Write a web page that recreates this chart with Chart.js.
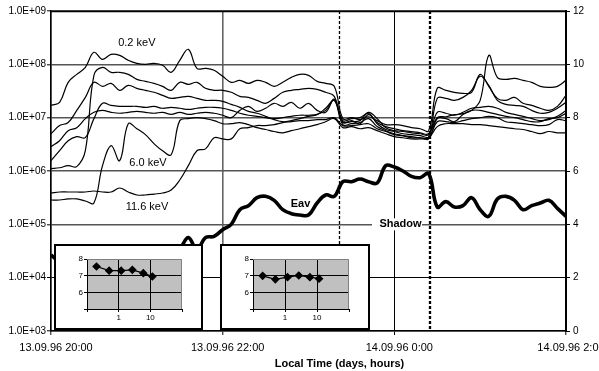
<!DOCTYPE html>
<html>
<head>
<meta charset="utf-8">
<script src="https://cdn.jsdelivr.net/npm/chart.js@4.4.0/dist/chart.umd.min.js"></script>
<style>
  html, body { margin: 0; padding: 0; background: #fff; }
  #wrap { position: relative; width: 599px; height: 371px; overflow: hidden; }
  #main { position: absolute; left: 0; top: 0; }
  .inset { position: absolute; box-sizing: border-box; border: 2px solid #000; background: #fff; }
  .inset canvas { position: absolute; left: 0; top: 0; }
</style>
</head>
<body>
<div id="wrap">
  <canvas id="main" width="599" height="371"></canvas>
  <div class="inset" style="left:54px; top:244px; width:149px; height:86px;"><canvas id="inset1" width="145" height="82"></canvas></div>
  <div class="inset" style="left:220px; top:244px; width:150px; height:86px;"><canvas id="inset2" width="146" height="82"></canvas></div>
</div>
<script>
// Hours after 13.09.96 20:00, one sample every 6 minutes
const hours = [0,0.1,0.2,0.3,0.4,0.5,0.6,0.7,0.8,0.9,1.0,1.1,1.2,1.3,1.4,1.5,1.6,1.7,1.8,1.9,2.0,2.1,2.2,2.3,2.4,2.5,2.6,2.7,2.8,2.9,3.0,3.1,3.2,3.3,3.4,3.5,3.6,3.7,3.8,3.9,4.0,4.1,4.2,4.3,4.4,4.5,4.6,4.7,4.8,4.9,5.0,5.1,5.2,5.3,5.4,5.5,5.6,5.7,5.8,5.9,6.0];

// Electron flux per energy channel (left axis)
const flux02keV = [1.7e7,1.94e7,4.6e7,6.49e7,8.78e7,1.68e8,1.24e8,1.54e8,1.47e8,1.19e8,1.04e8,1.0e8,1.04e8,9.58e7,7.08e7,1.19e8,1.91e8,8.41e7,8.41e7,7.72e7,5.96e7,4.6e7,5.01e7,4.4e7,5.01e7,4.6e7,3.87e7,4.6e7,5.7e7,6.49e7,6.22e7,4.8e7,4.4e7,3.87e7,9.6e6,1.0e7,9.2e6,1.04e7,8.8e6,7.4e6,7.4e6,7.1e6,6.5e6,6.2e6,5.7e6,3.55e7,3.26e7,2.99e7,2.86e7,2.99e7,6.49e7,3.87e7,2.3e7,2.11e7,2.4e7,1.86e7,1.7e7,1.5e7,1.37e7,1.63e7,2.62e7];
const fluxCh2 = [1.11e6,1.15e6,1.26e6,1.21e6,2.4e6,6.22e7,8.78e7,7.08e7,7.08e7,6.49e7,5.23e7,4.8e7,4.4e7,3.87e7,3.26e7,4.6e7,4.22e7,4.6e7,3.55e7,3.26e7,3.26e7,2.99e7,2.51e7,2.4e7,2.11e7,1.86e7,2.3e7,2.99e7,3.26e7,3.4e7,3.55e7,3.4e7,2.99e7,2.51e7,8.1e6,8.8e6,7.7e6,1.14e7,8.1e6,6.8e6,6.2e6,5.7e6,5.5e6,5.2e6,5.0e6,1.0e7,1.04e7,1.14e7,1.19e7,1.37e7,2.11e7,1.47e8,5.7e7,5.23e7,5.46e7,5.01e7,4.6e7,3.87e7,3.7e7,3.87e7,5.01e7];
const fluxCh3 = [5.0e6,7.1e6,8.1e6,1.37e7,2.4e7,4.6e7,3.87e7,4.4e7,3.26e7,4.04e7,3.55e7,3.26e7,2.99e7,2.62e7,2.3e7,2.4e7,2.51e7,2.3e7,2.11e7,2.11e7,2.02e7,1.78e7,1.56e7,1.31e7,1.21e7,1.06e7,9.2e6,8.4e6,8.8e6,9.6e6,1.06e7,1.14e7,1.5e7,2.11e7,8.8e6,9.6e6,1.0e7,1.21e7,7.7e6,6.0e6,5.5e6,5.0e6,4.8e6,4.6e6,4.4e6,2.3e7,2.3e7,2.11e7,2.4e7,3.26e7,5.96e7,4.04e7,2.11e7,1.78e7,1.7e7,1.63e7,1.37e7,1.21e7,1.26e7,1.5e7,1.94e7];
const fluxCh4 = [1.56e6,2.4e6,3.7e6,4.4e6,4.22e6,9.6e6,1.86e7,1.7e7,1.63e7,1.63e7,1.63e7,1.56e7,1.63e7,1.5e7,1.56e7,1.5e7,1.43e7,1.5e7,1.56e7,1.56e7,1.5e7,1.37e7,1.21e7,1.11e7,1.06e7,1.0e7,9.6e6,1.0e7,1.06e7,1.11e7,1.11e7,1.15e7,1.37e7,2.11e7,7.4e6,7.7e6,8.1e6,9.6e6,6.8e6,5.7e6,5.0e6,4.6e6,4.2e6,4.2e6,4.0e6,9.6e6,9.6e6,8.4e6,1.15e7,1.37e7,1.37e7,1.26e7,1.15e7,1.06e7,1.0e7,9.2e6,8.4e6,8.4e6,9.6e6,1.0e7,1.21e7];
const fluxCh5 = [2.86e6,3.7e6,5.7e6,6.5e6,9.6e6,1.26e7,1.37e7,1.26e7,1.21e7,1.26e7,1.31e7,1.26e7,1.21e7,1.26e7,1.15e7,1.26e7,1.15e7,1.21e7,1.26e7,1.21e7,1.11e7,1.0e7,1.37e7,1.63e7,1.31e7,1.5e7,1.86e7,1.63e7,1.94e7,1.5e7,1.86e7,1.37e7,1.26e7,2.21e7,8.4e6,8.4e6,8.8e6,1.26e7,9.6e6,6.5e6,5.7e6,5.5e6,5.2e6,5.0e6,4.8e6,1.26e7,1.21e7,1.11e7,1.26e7,1.5e7,1.56e7,1.63e7,1.5e7,1.26e7,1.15e7,1.06e7,9.6e6,8.8e6,9.2e6,1.06e7,1.37e7];
const flux60keV = [2.86e5,2.86e5,2.99e5,2.99e5,2.74e5,2.51e5,1.26e6,2.99e6,1.56e6,7.7e6,6.2e6,4.8e6,3.26e6,2.4e6,2.02e6,8.8e6,9.6e6,1.0e7,9.6e6,8.8e6,7.7e6,7.7e6,8.1e6,7.4e6,6.5e6,6.0e6,5.5e6,5.2e6,5.7e6,6.2e6,6.8e6,7.4e6,8.4e6,9.6e6,6.5e6,6.8e6,6.2e6,6.5e6,5.7e6,5.0e6,4.4e6,4.2e6,4.0e6,4.0e6,4.2e6,8.4e6,8.4e6,8.1e6,8.8e6,9.6e6,1.0e7,1.06e7,1.0e7,8.4e6,8.1e6,7.7e6,7.4e6,7.1e6,7.4e6,9.2e6,8.8e6];
const flux116keV = [3.87e5,4.04e5,4.04e5,4.04e5,4.04e5,4.22e5,4.04e5,4.04e5,4.8e5,4.04e5,3.55e5,3.55e5,3.7e5,3.87e5,4.4e5,6.78e5,1.26e6,2.4e6,2.6e6,4.2e6,4.0e6,4.0e6,6.2e6,6.5e6,7.1e6,7.1e6,7.4e6,8.1e6,8.4e6,8.8e6,8.8e6,9.2e6,9.2e6,1.0e7,7.1e6,7.1e6,7.4e6,7.7e6,6.2e6,5.5e6,4.8e6,4.6e6,4.4e6,4.2e6,4.2e6,6.8e6,7.7e6,7.7e6,7.7e6,7.4e6,7.4e6,7.1e6,6.8e6,6.5e6,6.2e6,6.0e6,5.5e6,5.0e6,5.5e6,5.2e6,5.2e6];

// Average energy Eav (right axis, keV)
const eav = [2.85,2.6,2.5,2.4,2.5,2.6,2.5,2.6,2.7,2.6,2.8,2.7,2.9,2.8,3.0,3.1,3.5,3.05,3.5,3.55,3.8,4.0,4.55,4.7,5.0,5.05,4.9,4.55,4.4,4.35,4.35,4.8,5.1,5.05,5.6,5.6,5.7,5.6,5.55,6.2,6.15,6.0,5.8,5.75,5.9,4.65,4.85,4.65,4.7,5.0,4.55,4.3,4.95,5.05,4.9,4.55,4.7,4.8,4.9,4.6,4.3];

// Shadow entry and exit (hours after 20:00)
const shadowBounds = [3.36, 4.42];

// Axis ticks
const timeTicks = [0, 2, 4, 6];
const timeTickLabels = ['13.09.96 20:00', '13.09.96 22:00', '14.09.96 0:00', '14.09.96 2:00'];
const fluxTicks = [1e3, 1e4, 1e5, 1e6, 1e7, 1e8, 1e9];
const fluxTickLabels = ['1.0E+03', '1.0E+04', '1.0E+05', '1.0E+06', '1.0E+07', '1.0E+08', '1.0E+09'];

// Spectra in the two insets: log flux versus energy (keV)
const insetEnergies = [0.2, 0.5, 1.2, 2.7, 6.0, 11.6];
const spectrumBefore = [7.55, 7.3, 7.3, 7.35, 7.15, 6.95];
const spectrumInside = [6.99, 6.78, 6.91, 7.01, 6.91, 6.82];
const insetXTicks = [0.1, 1, 10, 100];
const insetXLabels = ['', '1', '10', ''];
const insetYTicks = [5, 6, 7, 8];
const insetYLabels = ['', '6', '7', '8'];

const FONT = '"Liberation Sans", Arial, Helvetica, sans-serif';
Chart.defaults.font.family = FONT;
Chart.defaults.color = '#000';

const channels = [flux02keV, fluxCh2, fluxCh3, fluxCh4, fluxCh5, flux60keV, flux116keV];

const decorations = {
  id: 'decorations',
  beforeDatasetsDraw(chart) {
    const { ctx, chartArea: a, scales: { x } } = chart;
    ctx.save();
    ctx.strokeStyle = '#000';
    shadowBounds.forEach((t, k) => {
      const px = Math.round(x.getPixelForValue(t)) + (k === 0 ? 0.5 : 0);
      ctx.lineWidth = k === 0 ? 1.3 : 2.3;
      ctx.setLineDash([3, 2]);
      ctx.beginPath();
      ctx.moveTo(px, a.top);
      ctx.lineTo(px, a.bottom);
      ctx.stroke();
    });
    ctx.restore();
  },
  afterDatasetsDraw(chart) {
    const { ctx, chartArea: a, scales: { x, y, y2 } } = chart;
    ctx.save();
    ctx.strokeStyle = '#000';
    ctx.lineWidth = 1.5;
    ctx.beginPath();
    ctx.moveTo(a.left, a.top + 0.5);
    ctx.lineTo(a.right, a.top + 0.5);
    ctx.stroke();

    ctx.fillStyle = '#000';
    ctx.textAlign = 'center';
    ctx.textBaseline = 'middle';
    ctx.font = '11px ' + FONT;
    ctx.fillText('0.2 keV', x.getPixelForValue(1.0), y.getPixelForValue(2.5e8));
    ctx.fillText('6.0 keV', x.getPixelForValue(1.13), y.getPixelForValue(1.4e6));
    ctx.fillText('11.6 keV', x.getPixelForValue(1.118), y.getPixelForValue(2.1e5));

    ctx.font = 'bold 11px ' + FONT;
    ctx.fillText('Eav', x.getPixelForValue(2.907), y2.getPixelForValue(4.75));
    const sx = x.getPixelForValue(4.072), sy = y2.getPixelForValue(4.0);
    ctx.fillStyle = '#fff';
    ctx.fillRect(sx - 28.5, sy - 6, 50, 12);
    ctx.fillStyle = '#000';
    ctx.fillText('Shadow', sx, sy);

    ctx.fillText('Local Time (days, hours)', (a.left + a.right) / 2 + 31, 364);
    ctx.restore();
  }
};

const datasets = [{
  label: 'Eav',
  data: eav.map((v, i) => ({ x: hours[i], y: v })),
  yAxisID: 'y2',
  borderColor: '#000',
  borderWidth: 3.6,
  pointRadius: 0,
  tension: 0.4,
  fill: false
}].concat(channels.map((arr, k) => ({
  label: 'channel ' + (k + 1),
  data: arr.map((v, i) => ({ x: hours[i], y: v })),
  yAxisID: 'y',
  borderColor: '#000',
  borderWidth: 1.2,
  pointRadius: 0,
  tension: 0.4,
  fill: false
})));

new Chart(document.getElementById('main'), {
  type: 'line',
  data: { datasets },
  options: {
    responsive: false,
    animation: false,
    devicePixelRatio: 1,
    layout: { padding: { top: 11, left: 0, right: 0, bottom: 0 } },
    plugins: { legend: { display: false }, tooltip: { enabled: false } },
    scales: {
      x: {
        type: 'linear', min: 0, max: 6,
        afterBuildTicks: s => { s.ticks = timeTicks.map(v => ({ value: v })); },
        afterFit: s => { s.height = 40; s.paddingLeft = 0; s.paddingRight = 0; },
        ticks: {
          callback: v => timeTickLabels[timeTicks.indexOf(v)],
          maxRotation: 0, autoSkip: false, labelOffset: 5, padding: 6,
          font: { size: 11 }, color: '#000'
        },
        grid: {
          color: c => (c.tick && c.tick.value === 4) ? '#000' : '#666',
          lineWidth: c => (c.tick && c.tick.value === 4) ? 1 : 1.6,
          tickLength: 4, tickColor: '#000', tickWidth: 1
        },
        border: { color: '#000', width: 1.5 }
      },
      y: {
        type: 'logarithmic', position: 'left', min: 1e3, max: 1e9,
        afterBuildTicks: s => { s.ticks = fluxTicks.map(v => ({ value: v })); },
        afterFit: s => { s.width = 51; s.paddingTop = 0; s.paddingBottom = 0; },
        ticks: {
          callback: v => fluxTickLabels[fluxTicks.indexOf(v)],
          autoSkip: false, padding: 1, font: { size: 10 }, color: '#000'
        },
        grid: {
          color: c => (c.tick && c.tick.value === 1e4) ? '#000' : '#555',
          lineWidth: c => (c.tick && c.tick.value === 1e4) ? 1 : 1.6,
          tickLength: 4, tickColor: '#000', tickWidth: 1
        },
        border: { color: '#000', width: 1.5 }
      },
      y2: {
        type: 'linear', position: 'right', min: 0, max: 12,
        afterFit: s => { s.width = 33; s.paddingTop = 0; s.paddingBottom = 0; },
        ticks: { stepSize: 2, padding: 3, font: { size: 10 }, color: '#000' },
        grid: { drawOnChartArea: false, tickLength: 4, tickColor: '#000', tickWidth: 1 },
        border: { color: '#000', width: 2 }
      }
    }
  },
  plugins: [decorations]
});

const plotBackground = {
  id: 'plotBackground',
  beforeDraw(chart) {
    const { ctx, chartArea: a } = chart;
    ctx.save();
    ctx.fillStyle = '#c0c0c0';
    ctx.fillRect(a.left, a.top, a.right - a.left, a.bottom - a.top);
    ctx.restore();
  },
  afterDatasetsDraw(chart) {
    const { ctx, chartArea: a } = chart;
    ctx.save();
    ctx.strokeStyle = '#808080';
    ctx.lineWidth = 1;
    ctx.beginPath();
    ctx.moveTo(a.left, a.top + 0.5);
    ctx.lineTo(a.right - 0.5, a.top + 0.5);
    ctx.lineTo(a.right - 0.5, a.bottom);
    ctx.stroke();
    ctx.restore();
  }
};

function makeInset(id, values) {
  new Chart(document.getElementById(id), {
    type: 'line',
    data: {
      datasets: [{
        data: values.map((v, i) => ({ x: insetEnergies[i], y: v })),
        borderColor: '#000',
        borderWidth: 1.2,
        pointStyle: 'rectRot',
        pointRadius: 3.5,
        pointBackgroundColor: '#000',
        pointBorderColor: '#000',
        tension: 0
      }]
    },
    options: {
      responsive: false,
      animation: false,
      devicePixelRatio: 1,
      layout: { padding: { top: 13, right: 19, left: 0, bottom: 0 } },
      plugins: { legend: { display: false }, tooltip: { enabled: false } },
      scales: {
        x: {
          type: 'logarithmic', min: 0.1, max: 100,
          afterBuildTicks: s => { s.ticks = insetXTicks.map(v => ({ value: v })); },
          afterFit: s => { s.height = 19; s.paddingLeft = 0; s.paddingRight = 0; },
          ticks: {
            callback: v => insetXLabels[insetXTicks.indexOf(v)],
            autoSkip: false, maxRotation: 0, padding: 1, font: { size: 8 }, color: '#000'
          },
          grid: {
            color: c => (c.tick && (c.tick.value === 1 || c.tick.value === 10)) ? '#000' : 'rgba(0,0,0,0)',
            lineWidth: 1, tickLength: 3, tickColor: '#000'
          },
          border: { color: '#000', width: 1 }
        },
        y: {
          type: 'linear', min: 5, max: 8,
          afterBuildTicks: s => { s.ticks = insetYTicks.map(v => ({ value: v })); },
          afterFit: s => { s.width = 31; s.paddingTop = 0; s.paddingBottom = 0; },
          ticks: {
            callback: v => insetYLabels[insetYTicks.indexOf(v)],
            autoSkip: false, padding: 1, font: { size: 8 }, color: '#000'
          },
          grid: {
            color: c => (c.tick && (c.tick.value === 6 || c.tick.value === 7)) ? '#000' : 'rgba(0,0,0,0)',
            lineWidth: 1, tickLength: 3, tickColor: '#000'
          },
          border: { color: '#000', width: 1 }
        }
      }
    },
    plugins: [plotBackground]
  });
}

makeInset('inset1', spectrumBefore);
makeInset('inset2', spectrumInside);
</script>
</body>
</html>
